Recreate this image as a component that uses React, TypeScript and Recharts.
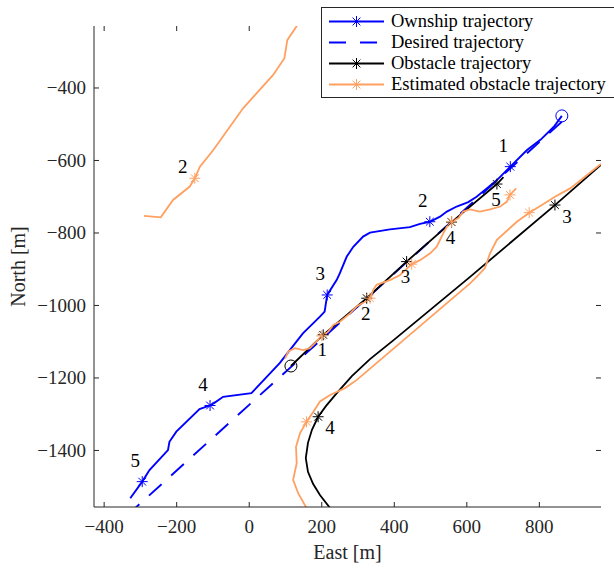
import React from 'react';
import { ComposedChart, Line, Scatter, XAxis, YAxis, Legend } from 'recharts';

const BLUE = '#0000ff';
const BLACK = '#000000';
const ORANGE = '#ffa060';
const AXIS = '#262626';
const FONT = '"Liberation Serif", "Times New Roman", serif';

const W = 614;
const H = 569;
const PLOT_LEFT = 94;
const PLOT_RIGHT = 601;
const PLOT_TOP = 26;
const PLOT_BOTTOM = 507;

const xDomain = [-428, 970];
const yDomain = [-1556, -229];
const xTicks = [-400, -200, 0, 200, 400, 600, 800];
const yTicks = [-1400, -1200, -1000, -800, -600, -400];

const legendLabels = ['Ownship trajectory', 'Desired trajectory', 'Obstacle trajectory', 'Estimated obstacle trajectory'];

// ownship (solid blue)
const ownship = [
  { x: 862, y: -477 }, { x: 840, y: -507 }, { x: 803, y: -543 }, { x: 766, y: -571 },
  { x: 720, y: -617 }, { x: 683, y: -654 }, { x: 655, y: -677 }, { x: 627, y: -700 },
  { x: 604, y: -715 }, { x: 572, y: -727 }, { x: 545, y: -741 }, { x: 526, y: -755 },
  { x: 498, y: -769 }, { x: 471, y: -775 }, { x: 443, y: -784 }, { x: 388, y: -790 },
  { x: 333, y: -799 }, { x: 314, y: -810 }, { x: 287, y: -838 }, { x: 269, y: -865 },
  { x: 250, y: -911 }, { x: 241, y: -930 }, { x: 215, y: -971 }, { x: 208, y: -1017 },
  { x: 195, y: -1031 }, { x: 148, y: -1077 }, { x: 112, y: -1123 }, { x: 84, y: -1159 },
  { x: 6, y: -1242 }, { x: -72, y: -1252 }, { x: -95, y: -1268 }, { x: -108, y: -1276 },
  { x: -137, y: -1286 }, { x: -201, y: -1348 }, { x: -220, y: -1376 }, { x: -224, y: -1399 },
  { x: -275, y: -1454 }, { x: -295, y: -1486 }, { x: -328, y: -1532 },
];

const desired = [
  { x: 862, y: -493 },
  { x: -320, y: -1564 },
];

const obstacle1 = [
  { x: 115, y: -1167 }, { x: 204, y: -1081 }, { x: 324, y: -980 }, { x: 434, y: -879 },
  { x: 558, y: -770 }, { x: 683, y: -665 }, { x: 701, y: -646 },
];

const obstacle2 = [
  { x: 990, y: -595 }, { x: 970, y: -612 }, { x: 843, y: -723 }, { x: 609, y: -921 },
  { x: 399, y: -1095 }, { x: 333, y: -1148 }, { x: 283, y: -1195 }, { x: 242, y: -1241 },
  { x: 212, y: -1277 }, { x: 190, y: -1307 }, { x: 173, y: -1343 }, { x: 162, y: -1379 },
  { x: 156, y: -1421 }, { x: 162, y: -1459 }, { x: 176, y: -1492 }, { x: 195, y: -1523 },
  { x: 223, y: -1559 },
];

const estimatedA = [
  { x: 140, y: -212 }, { x: 131, y: -229 }, { x: 105, y: -268 }, { x: 97, y: -318 },
  { x: 66, y: -364 }, { x: -17, y: -456 }, { x: -99, y: -571 }, { x: -136, y: -617 },
  { x: -150, y: -649 }, { x: -164, y: -672 }, { x: -210, y: -709 }, { x: -244, y: -757 },
  { x: -290, y: -753 },
];

const estimatedB = [
  { x: 99, y: -1146 }, { x: 108, y: -1127 }, { x: 126, y: -1118 }, { x: 149, y: -1123 },
  { x: 167, y: -1118 }, { x: 181, y: -1104 }, { x: 200, y: -1084 }, { x: 218, y: -1072 },
  { x: 232, y: -1054 }, { x: 250, y: -1045 }, { x: 278, y: -1022 }, { x: 296, y: -1003 },
  { x: 319, y: -990 }, { x: 333, y: -980 }, { x: 342, y: -957 }, { x: 351, y: -943 },
  { x: 388, y: -930 }, { x: 416, y: -916 }, { x: 448, y: -886 }, { x: 471, y: -875 },
  { x: 499, y: -856 }, { x: 517, y: -838 }, { x: 535, y: -801 }, { x: 545, y: -783 },
  { x: 558, y: -769 }, { x: 577, y: -759 }, { x: 590, y: -741 }, { x: 609, y: -735 },
  { x: 636, y: -741 }, { x: 664, y: -735 }, { x: 692, y: -727 }, { x: 710, y: -714 },
  { x: 719, y: -695 }, { x: 736, y: -677 },
];

const estimatedC = [
  { x: 976, y: -607 }, { x: 967, y: -612 }, { x: 885, y: -677 }, { x: 843, y: -700 },
  { x: 807, y: -723 }, { x: 772, y: -744 }, { x: 738, y: -769 }, { x: 683, y: -819 },
  { x: 664, y: -856 }, { x: 650, y: -897 }, { x: 627, y: -921 }, { x: 609, y: -939 },
  { x: 296, y: -1206 }, { x: 264, y: -1228 }, { x: 223, y: -1247 }, { x: 195, y: -1265 },
  { x: 177, y: -1293 }, { x: 158, y: -1321 }, { x: 140, y: -1353 }, { x: 129, y: -1390 },
  { x: 131, y: -1435 }, { x: 121, y: -1481 }, { x: 135, y: -1518 }, { x: 158, y: -1559 },
];

// star markers with their time-step labels
const ownStars = [
  { x: 720, y: -617, n: '1' }, { x: 498, y: -769, n: '2' }, { x: 215, y: -971, n: '3' },
  { x: -108, y: -1276, n: '4' }, { x: -295, y: -1486, n: '5' },
];
const obs1Stars = [
  { x: 204, y: -1081, n: '1' }, { x: 324, y: -980, n: '2' }, { x: 434, y: -879, n: '3' },
  { x: 558, y: -770, n: '4' }, { x: 683, y: -665, n: '5' },
];
const obs2Stars = [{ x: 843, y: -723, n: '3' }, { x: 190, y: -1307, n: '4' }];
const estStarsA = [{ x: -150, y: -649, n: '2' }];
const estStarsB = [
  { x: 200, y: -1084 }, { x: 333, y: -980 }, { x: 448, y: -886 }, { x: 558, y: -769 }, { x: 719, y: -695 },
];
const estStarsC = [{ x: 772, y: -744 }, { x: 158, y: -1321 }];
const ownStart = [{ x: 862, y: -477 }];
const obs1Start = [{ x: 115, y: -1167 }];

const star = (color: string, dx = 0, dy = 0) => (props: any) => {
  const { cx, cy, payload } = props;
  const r = 5.5;
  const d = r * 0.707;
  return (
    <g>
      <g stroke={color} strokeWidth={1}>
        <line x1={cx - r} y1={cy} x2={cx + r} y2={cy} />
        <line x1={cx} y1={cy - r} x2={cx} y2={cy + r} />
        <line x1={cx - d} y1={cy - d} x2={cx + d} y2={cy + d} />
        <line x1={cx - d} y1={cy + d} x2={cx + d} y2={cy - d} />
      </g>
      {payload && payload.n ? (
        <text x={cx + dx} y={cy + dy} textAnchor="middle" dominantBaseline="central"
          fontFamily={FONT} fontSize={19} fill="#000">{payload.n}</text>
      ) : null}
    </g>
  );
};

const ring = (color: string) => (props: any) => (
  <circle cx={props.cx} cy={props.cy} r={6} fill="none" stroke={color} strokeWidth={1} />
);

const fmt = (v: number) => String(v).replace('-', '\u2212');

const XTick = (props: any) => {
  const { x, payload } = props;
  return (
    <g>
      <line x1={x} x2={x} y1={PLOT_BOTTOM} y2={PLOT_BOTTOM - 5} stroke={AXIS} />
      <line x1={x} x2={x} y1={PLOT_TOP} y2={PLOT_TOP + 5} stroke={AXIS} />
      <text x={x} y={PLOT_BOTTOM + 19} textAnchor="middle" dominantBaseline="central"
        fontFamily={FONT} fontSize={19} fill={AXIS}>{fmt(payload.value)}</text>
    </g>
  );
};

const YTick = (props: any) => {
  const { y, payload } = props;
  return (
    <g>
      <line x1={PLOT_LEFT} x2={PLOT_LEFT + 5} y1={y} y2={y} stroke={AXIS} />
      <line x1={PLOT_RIGHT} x2={PLOT_RIGHT - 5} y1={y} y2={y} stroke={AXIS} />
      <text x={86} y={y} textAnchor="end" dominantBaseline="central"
        fontFamily={FONT} fontSize={19} fill={AXIS}>{fmt(payload.value)}</text>
    </g>
  );
};

const LegendBox = () => {
  const samples = [
    { color: BLUE, dash: undefined, marker: true },
    { color: BLUE, dash: '17 14', marker: false },
    { color: BLACK, dash: undefined, marker: true },
    { color: ORANGE, dash: undefined, marker: true },
  ];
  return (
    <div style={{
      width: 320, height: 91, boxSizing: 'border-box', border: `1px solid ${AXIS}`,
      background: '#fff', paddingTop: 3, fontFamily: FONT, fontSize: 18.5, color: '#000',
    }}>
      {legendLabels.map((label, i) => {
        const s = samples[i];
        const mk = star(s.color);
        return (
          <div key={label} style={{ display: 'flex', alignItems: 'center', height: 21 }}>
            <svg width={69} height={21} style={{ flex: 'none' }}>
              <line x1={7} x2={62} y1={10.5} y2={10.5} stroke={s.color} strokeWidth={1.8}
                strokeDasharray={s.dash} />
              {s.marker ? mk({ cx: 34.5, cy: 10.5 }) : null}
            </svg>
            <span style={{ whiteSpace: 'nowrap', lineHeight: '21px' }}>{label}</span>
          </div>
        );
      })}
    </div>
  );
};

const App = () => {
  return (
    <div style={{ position: 'absolute', left: 0, top: 0, width: W, height: H, overflow: 'hidden', background: '#fff' }}>
      <ComposedChart width={W} height={H} margin={{ top: PLOT_TOP, right: W - PLOT_RIGHT, bottom: 0, left: 0 }}>
        <XAxis dataKey="x" type="number" domain={xDomain} ticks={xTicks} allowDataOverflow
          height={H - PLOT_BOTTOM} axisLine={{ stroke: AXIS }} tickLine={false} tick={<XTick />}
          label={(p: any) => {
            const vb = p.viewBox || { x: PLOT_LEFT, y: PLOT_BOTTOM, width: PLOT_RIGHT - PLOT_LEFT };
            return (
              <text x={vb.x + vb.width / 2} y={vb.y + 45} textAnchor="middle" dominantBaseline="central"
                fontFamily={FONT} fontSize={20} fill={AXIS}>East [m]</text>
            );
          }} />
        <XAxis xAxisId="top" orientation="top" dataKey="x" type="number" domain={xDomain} allowDataOverflow
          height={0} axisLine={{ stroke: AXIS }} tickLine={false} tick={false} />
        <YAxis dataKey="y" type="number" domain={yDomain} ticks={yTicks} allowDataOverflow
          width={PLOT_LEFT} axisLine={{ stroke: AXIS }} tickLine={false} tick={<YTick />}
          label={() => (
            <text x={18} y={(PLOT_TOP + PLOT_BOTTOM) / 2} textAnchor="middle" dominantBaseline="central"
              transform={`rotate(-90 18 ${(PLOT_TOP + PLOT_BOTTOM) / 2})`}
              fontFamily={FONT} fontSize={20} fill={AXIS}>North [m]</text>
          )} />
        <YAxis yAxisId="right" orientation="right" dataKey="y" type="number" domain={yDomain} allowDataOverflow
          width={0} axisLine={{ stroke: AXIS }} tickLine={false} tick={false} />

        <Line data={ownship} dataKey="y" stroke={BLUE} strokeWidth={1.9} dot={false} isAnimationActive={false} />
        <Line data={desired} dataKey="y" stroke={BLUE} strokeWidth={1.9} strokeDasharray="17 13" dot={false} isAnimationActive={false} />
        <Line data={obstacle1} dataKey="y" stroke={BLACK} strokeWidth={1.8} dot={false} isAnimationActive={false} />
        <Line data={obstacle2} dataKey="y" stroke={BLACK} strokeWidth={1.8} dot={false} isAnimationActive={false} />
        <Line data={estimatedA} dataKey="y" stroke={ORANGE} strokeWidth={1.8} dot={false} isAnimationActive={false} />
        <Line data={estimatedB} dataKey="y" stroke={ORANGE} strokeWidth={1.8} dot={false} isAnimationActive={false} />
        <Line data={estimatedC} dataKey="y" stroke={ORANGE} strokeWidth={1.8} dot={false} isAnimationActive={false} />

        <Scatter data={ownStart} dataKey="y" shape={ring(BLUE)} isAnimationActive={false} />
        <Scatter data={obs1Start} dataKey="y" shape={ring(BLACK)} isAnimationActive={false} />
        <Scatter data={ownStars} dataKey="y" shape={star(BLUE, -7, -21)} isAnimationActive={false} />
        <Scatter data={obs1Stars} dataKey="y" shape={star(BLACK, -1, 15)} isAnimationActive={false} />
        <Scatter data={obs2Stars} dataKey="y" shape={star(BLACK, 12, 11)} isAnimationActive={false} />
        <Scatter data={estStarsA} dataKey="y" shape={star(ORANGE, -12, -12)} isAnimationActive={false} />
        <Scatter data={estStarsB} dataKey="y" shape={star(ORANGE)} isAnimationActive={false} />
        <Scatter data={estStarsC} dataKey="y" shape={star(ORANGE)} isAnimationActive={false} />

        <Legend layout="vertical" align="center" verticalAlign="middle" content={<LegendBox />}
          wrapperStyle={{ left: 321, top: 7, width: 320, height: 91 }} />
      </ComposedChart>
    </div>
  );
};

export default App;
